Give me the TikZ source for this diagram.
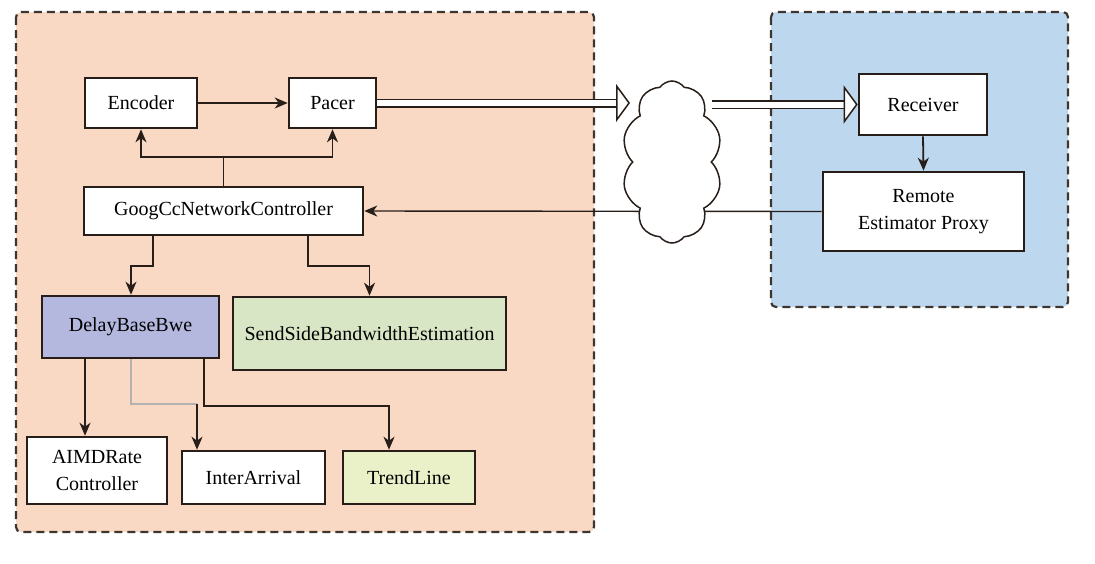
\documentclass[tikz,border=0pt]{standalone}
\usepackage{fontspec}
\setmainfont{Liberation Serif}
\usetikzlibrary{arrows.meta,shapes.symbols}
\definecolor{peach}{RGB}{249,217,195}
\definecolor{skyb}{RGB}{189,215,238}
\definecolor{lav}{RGB}{180,184,222}
\definecolor{lgreen}{RGB}{216,230,198}
\definecolor{lyellow}{RGB}{234,240,200}
\definecolor{dk}{RGB}{40,30,25}
\tikzset{
  panel/.style={draw=dk!90, line width=2.2pt, dash pattern=on 8pt off 5pt, rounded corners=5pt},
  blk/.style={draw=dk, line width=2.6pt, fill=white, inner sep=0pt, align=center,
    font=\fontsize{20}{27}\selectfont},
  arr/.style={draw=dk, line width=1.8pt, -{Stealth[length=13pt,width=11pt,inset=4pt]}},
  grayline/.style={draw=black!30, line width=1.8pt},
  dbl/.style={draw=dk, line width=1.5pt, double=white, double distance=6pt,
    -{Triangle[open, fill=white, length=14pt, width=38pt, line width=1.5pt]}},
}
\begin{document}
\begin{tikzpicture}[x=1pt,y=1pt]
\useasboundingbox (0,0) rectangle (1095,-563);
% panels
\draw[panel, fill=peach] (16,-12) rectangle (594,-532);
\draw[panel, fill=skyb] (771,-12) rectangle (1068,-307);
% blocks
\node[blk, minimum width=112pt, minimum height=50pt] (enc) at (141,-103) {Encoder};
\node[blk, minimum width=87pt, minimum height=50pt] (pacer) at (332.5,-103) {Pacer};
\node[blk, minimum width=279pt, minimum height=48pt] (ctrl) at (223.5,-211) {GoogCcNetworkController};
\node[blk, fill=lav, minimum width=177pt, minimum height=62pt] (delay) at (130.5,-327) {DelayBaseBwe};
\node[blk, fill=lgreen, minimum width=273pt, minimum height=73pt] (send) at (369.5,-333.5) {SendSideBandwidthEstimation};
\node[blk, minimum width=140pt, minimum height=67pt] (aimd) at (97,-470.5) {AIMDRate\\Controller};
\node[blk, minimum width=143pt, minimum height=53pt] (inter) at (253.5,-477.5) {InterArrival};
\node[blk, fill=lyellow, minimum width=132pt, minimum height=53pt] (trend) at (409,-477.5) {TrendLine};
\node[blk, minimum width=128pt, minimum height=61pt] (rec) at (923,-104.5) {Receiver};
\node[blk, minimum width=201pt, minimum height=79pt] (remote) at (923.5,-211.5) {Remote\\Estimator Proxy};
% connectors
\draw[arr] (enc.east) -- (pacer.west);
\draw[arr] (ctrl.north) -- ++(0,29) -| (enc.south);
\draw[arr] (ctrl.north) -- ++(0,29) -| (pacer.south);
\draw[arr] ([xshift=-70.5]ctrl.south) -- ++(0,-30) -| ([xshift=0.5]delay.north);
\draw[arr] ([xshift=84.5]ctrl.south) -- ++(0,-30) -| (send.north);
\draw[arr] ([xshift=-45.5]delay.south) -- ([xshift=-12]aimd.north);
\coordinate (g) at (197,-404);
\draw[grayline] ([xshift=0.5]delay.south) |- (g);
\draw[arr] (g) -- (g |- inter.north);
\draw[arr] ([xshift=73.5]delay.south) |- ++(0,-47) -| ([xshift=-20]trend.north);
\draw[arr] (rec.south) -- (remote.north);
\draw[arr, line width=1.4pt] (remote.west) -- (ctrl.east);
% cloud
\node[cloud, draw=dk, line width=1.5pt, fill=white, cloud puffs=10, cloud puff arc=110, aspect=0.6,
  minimum width=100pt, minimum height=162pt, inner sep=0pt] (net) at (672,-162) {};
\coordinate (cin) at (630,-103);
\coordinate (cout) at (712,-104.5);
\draw[dbl] (pacer.east) -- (cin);
\draw[dbl] (cout) -- (rec.west);
\end{tikzpicture}
\end{document}
